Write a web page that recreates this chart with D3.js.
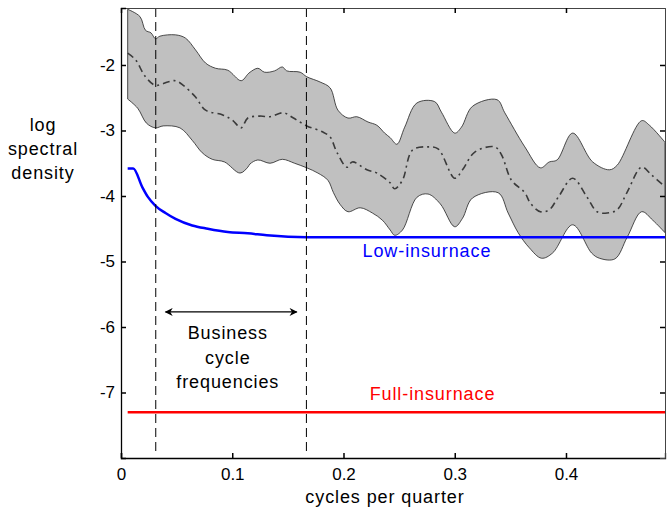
<!DOCTYPE html>
<html>
<head>
<meta charset="utf-8">
<script src="https://cdn.jsdelivr.net/npm/d3@7"></script>
<style>
  body { margin: 0; background: #fff; }
  svg text { font-family: "Liberation Sans", Arial, sans-serif; }
</style>
</head>
<body>
<svg id="chart" width="667" height="513"></svg>
<script>
// frequency (cycles per quarter) / log spectral density
var upperBand = [[0.006,-1.15],[0.017,-1.26],[0.022,-1.47],[0.027,-1.51],[0.031,-1.60],[0.035,-1.56],[0.049,-1.54],[0.058,-1.59],[0.067,-1.77],[0.076,-1.97],[0.085,-2.05],[0.096,-2.08],[0.108,-2.24],[0.114,-2.14],[0.116,-2.11],[0.123,-2.05],[0.129,-2.11],[0.138,-2.09],[0.145,-2.03],[0.149,-2.09],[0.161,-2.11],[0.167,-2.18],[0.179,-2.26],[0.188,-2.35],[0.195,-2.69],[0.204,-2.81],[0.212,-2.79],[0.222,-2.87],[0.230,-2.92],[0.237,-3.04],[0.242,-3.11],[0.248,-3.21],[0.255,-2.95],[0.266,-2.58],[0.282,-2.56],[0.288,-2.72],[0.300,-3.04],[0.306,-2.95],[0.316,-2.63],[0.338,-2.53],[0.345,-2.73],[0.363,-3.25],[0.377,-3.57],[0.385,-3.48],[0.392,-3.45],[0.406,-3.04],[0.424,-3.48],[0.439,-3.60],[0.446,-3.53],[0.468,-2.85],[0.475,-2.92],[0.489,-3.18]];

var lowerBand = [[0.006,-2.52],[0.015,-2.66],[0.023,-2.89],[0.031,-2.96],[0.038,-2.93],[0.053,-2.96],[0.064,-3.15],[0.073,-3.34],[0.082,-3.44],[0.093,-3.48],[0.107,-3.65],[0.114,-3.56],[0.116,-3.51],[0.123,-3.45],[0.134,-3.50],[0.145,-3.44],[0.156,-3.50],[0.167,-3.57],[0.177,-3.65],[0.186,-3.76],[0.191,-3.95],[0.197,-4.13],[0.204,-4.24],[0.215,-4.18],[0.226,-4.26],[0.235,-4.37],[0.242,-4.52],[0.246,-4.60],[0.253,-4.52],[0.266,-4.02],[0.276,-3.97],[0.287,-4.12],[0.300,-4.47],[0.307,-4.34],[0.316,-4.03],[0.339,-3.95],[0.348,-4.26],[0.357,-4.56],[0.367,-4.79],[0.378,-4.95],[0.388,-4.87],[0.406,-4.44],[0.423,-4.87],[0.430,-4.95],[0.444,-4.96],[0.455,-4.63],[0.468,-4.24],[0.478,-4.37],[0.489,-4.56]];

var midLine = [[0.006,-1.82],[0.013,-1.92],[0.022,-2.18],[0.031,-2.31],[0.042,-2.26],[0.049,-2.24],[0.056,-2.31],[0.067,-2.49],[0.076,-2.69],[0.091,-2.76],[0.100,-2.84],[0.108,-2.96],[0.114,-2.81],[0.125,-2.78],[0.134,-2.79],[0.146,-2.73],[0.155,-2.81],[0.167,-2.93],[0.181,-3.02],[0.188,-3.10],[0.194,-3.33],[0.203,-3.56],[0.208,-3.48],[0.221,-3.60],[0.230,-3.65],[0.242,-3.80],[0.246,-3.89],[0.253,-3.76],[0.262,-3.30],[0.276,-3.25],[0.285,-3.28],[0.300,-3.73],[0.307,-3.60],[0.318,-3.33],[0.336,-3.25],[0.342,-3.37],[0.351,-3.76],[0.363,-3.95],[0.368,-4.11],[0.377,-4.24],[0.385,-4.21],[0.393,-4.02],[0.406,-3.73],[0.419,-4.02],[0.428,-4.24],[0.437,-4.26],[0.446,-4.21],[0.455,-3.94],[0.468,-3.56],[0.477,-3.68],[0.489,-3.86]];

var lowInsurance = [[0.006,-3.58],[0.011,-3.58],[0.019,-3.86],[0.024,-4.01],[0.031,-4.15],[0.040,-4.26],[0.049,-4.35],[0.064,-4.45],[0.078,-4.50],[0.096,-4.55],[0.114,-4.57],[0.131,-4.60],[0.167,-4.63],[0.489,-4.63]];
var fullInsurance = [[0.006,-7.30],[0.489,-7.30]];

var bcBounds = [1/32, 1/6];       // business cycle band
var xTicks = [0, 0.1, 0.2, 0.3, 0.4];
var yTicks = [-7, -6, -5, -4, -3, -2];

// plot box (note: "top" is taken by window.top)
var pLeft = 121, pRight = 665, pTop = 8, pBottom = 458;
var FONT = 18;

var svg = d3.select("#chart");

var x = d3.scaleLinear().domain([0, 0.489]).range([pLeft, pRight]);
var y = d3.scaleLinear().domain([-8, -1.13]).range([pBottom, pTop]);

var line = d3.line()
  .x(function(d){ return x(d[0]); })
  .y(function(d){ return y(d[1]); });
var smooth = d3.line()
  .x(function(d){ return x(d[0]); })
  .y(function(d){ return y(d[1]); })
  .curve(d3.curveCatmullRom.alpha(0.5));

// shaded band: upper edge then lower edge going back
var bandD = smooth(upperBand) + "L" + smooth(lowerBand.slice().reverse()).slice(1) + "Z";
svg.append("path")
  .attr("d", bandD)
  .attr("fill", "#c0c0c0")
  .attr("stroke", "#222")
  .attr("stroke-width", 0.8);

svg.append("path")
  .attr("d", smooth(midLine))
  .attr("fill", "none")
  .attr("stroke", "#3a3a3a")
  .attr("stroke-width", 1.6)
  .attr("stroke-dasharray", "7,4,2,4");

svg.append("path")
  .attr("d", line.curve(d3.curveMonotoneX)(lowInsurance))
  .attr("fill", "none")
  .attr("stroke", "#0000ff")
  .attr("stroke-width", 2.5);
line.curve(d3.curveLinear);

svg.append("path")
  .attr("d", line(fullInsurance))
  .attr("fill", "none")
  .attr("stroke", "#ff0000")
  .attr("stroke-width", 2.5);

// vertical dashed lines
svg.selectAll(".bc").data(bcBounds).enter().append("line")
  .attr("class", "bc")
  .attr("x1", function(d){ return x(d); })
  .attr("x2", function(d){ return x(d); })
  .attr("y1", pTop)
  .attr("y2", pBottom - 6)
  .attr("stroke", "#000")
  .attr("stroke-width", 1)
  .attr("stroke-dasharray", "9,5");

// axes
svg.append("g")
  .attr("transform", "translate(0," + pBottom + ")")
  .call(d3.axisBottom(x).tickValues(xTicks).tickSize(-5).tickPadding(10)
    .tickFormat(function(d){ return String(d); }));
var xTop = svg.append("g")
  .attr("transform", "translate(0," + pTop + ")")
  .call(d3.axisTop(x).tickValues(xTicks).tickSize(-5).tickFormat(""));
svg.append("g")
  .attr("transform", "translate(" + pLeft + ",0)")
  .call(d3.axisLeft(y).tickValues(yTicks).tickSize(-5).tickPadding(6)
    .tickFormat(function(d){ return String(d); }));
var yRight = svg.append("g")
  .attr("transform", "translate(" + pRight + ",0)")
  .call(d3.axisRight(y).tickValues(yTicks).tickSize(-5).tickFormat(""));

svg.selectAll(".domain").attr("stroke", "#000").attr("stroke-width", 1.3);
svg.selectAll(".tick line").attr("stroke", "#000").attr("stroke-width", 1.5);
svg.selectAll(".tick text").attr("font-size", 17).attr("fill", "#000")
  .attr("font-family", "'Liberation Sans', Arial, sans-serif");
xTop.select(".domain").attr("stroke", "#444").attr("stroke-width", 1);
yRight.select(".domain").attr("stroke", "#444").attr("stroke-width", 1);

// labels
svg.append("text")
  .attr("x", 385).attr("y", 503)
  .attr("text-anchor", "middle")
  .attr("font-size", FONT).attr("letter-spacing", 0.9)
  .text("cycles per quarter");

var yl = svg.append("text").attr("text-anchor", "middle").attr("font-size", FONT).attr("letter-spacing", 0.9);
["log", "spectral", "density"].forEach(function(t, i){
  yl.append("tspan").attr("x", 43).attr("y", 131 + i * 24).text(t);
});

svg.append("text")
  .attr("x", x(0.275)).attr("y", 257)
  .attr("text-anchor", "middle")
  .attr("font-size", FONT).attr("letter-spacing", 0.9)
  .attr("fill", "#0000ff")
  .text("Low-insurnace");

svg.append("text")
  .attr("x", x(0.28)).attr("y", 400)
  .attr("text-anchor", "middle")
  .attr("font-size", FONT).attr("letter-spacing", 0.9)
  .attr("fill", "#ff0000")
  .text("Full-insurnace");

var bl = svg.append("text").attr("text-anchor", "middle").attr("font-size", FONT).attr("letter-spacing", 0.9);
["Business", "cycle", "frequencies"].forEach(function(t, i){
  bl.append("tspan").attr("x", x(0.096)).attr("y", 339 + i * 24.5).text(t);
});

// double arrow between the business cycle bounds
svg.append("defs").append("marker")
  .attr("id", "ah").attr("viewBox", "0 0 10 10")
  .attr("refX", 9).attr("refY", 5)
  .attr("markerWidth", 10).attr("markerHeight", 8)
  .attr("markerUnits", "userSpaceOnUse")
  .attr("orient", "auto-start-reverse")
  .append("path").attr("d", "M0,0 L10,5 L0,10 L3,5 Z").attr("fill", "#000");

svg.append("line")
  .attr("x1", x(0.04)).attr("x2", x(0.158))
  .attr("y1", y(-5.77)).attr("y2", y(-5.77))
  .attr("stroke", "#000").attr("stroke-width", 1.3)
  .attr("marker-start", "url(#ah)").attr("marker-end", "url(#ah)");
</script>
</body>
</html>
